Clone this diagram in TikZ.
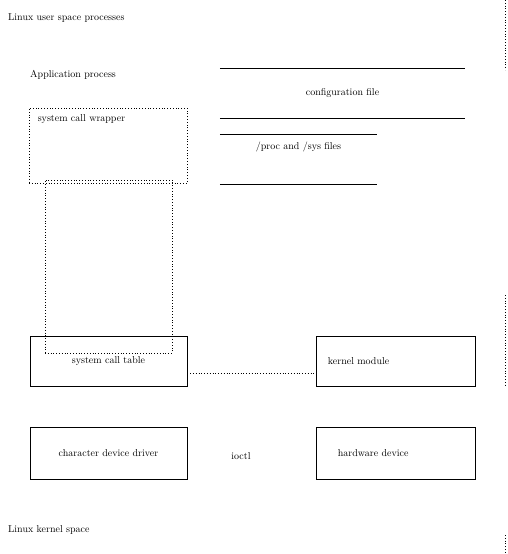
\documentclass[tikz,border=0pt]{standalone}
\usepackage{tikz}
\usetikzlibrary{positioning}
\begin{document}
\begin{tikzpicture}[x=1pt,y={(0pt,-1pt)}]
	\tikzstyle{every node}+=[font=\normalsize]
	\tikzstyle{block}=[draw=black, line width=0.6pt, minimum width=157pt, minimum height=50pt, inner sep=0pt]
	\tikzstyle{store}=[minimum height=50pt, inner sep=0pt]
	\tikzstyle{group}=[draw=black, dotted, line width=0.8pt, inner sep=0pt]
	\useasboundingbox (0,0) rectangle (508,554);
	% titles
	\node [anchor=west, inner sep=0pt] (usr) at (8,18) {Linux user space processes};
	\node [anchor=west, inner sep=0pt] (krn) at (8,530) {Linux kernel space};
	\node [anchor=west, inner sep=0pt] (app) at (30,75) {Application process};
	% process groups
	\node [group, minimum width=158pt, minimum height=75pt] (proc) at (108,145.5) {};
	\node [anchor=north west, inner sep=0pt] (wrap) at ([xshift=9pt,yshift=-7pt]proc.north west) {system call wrapper};
	\node [group, minimum width=127pt, minimum height=173pt] (lib) at (108.5,266.5) {};
	% data stores
	\node [store, minimum width=245pt] (cfg) at (342.5,93) {configuration file};
	\draw [line width=0.6pt] (cfg.north west) -- (cfg.north east);
	\draw [line width=0.6pt] (cfg.south west) -- (cfg.south east);
	\node [store, minimum width=157pt] (sys) at (298.5,159) {};
	\node [anchor=north, inner sep=0pt] at ([yshift=-8pt]sys.north) {/proc and /sys files};
	\draw [line width=0.6pt] (sys.north west) -- (sys.north east);
	\draw [line width=0.6pt] (sys.south west) -- (sys.south east);
	% kernel blocks
	\node [block] (tbl) at (108.5,361) {system call table};
	\node [block, minimum width=159pt] (mod) at (395.5,361) {};
	\node [anchor=west, inner sep=0pt] at ([xshift=12pt]mod.west) {kernel module};
	\node [block, minimum height=52pt] (drv) at (108.5,453) {character device driver};
	\node [block, minimum width=159pt, minimum height=52pt] (hw) at (395.5,453) {};
	\node [anchor=west, inner sep=0pt] at ([xshift=22pt]hw.west) {hardware device};
	\draw [dotted, line width=0.8pt] ([yshift=-12pt]tbl.east) -- ([yshift=-12pt]mod.west);
	\node (ioctl) at (241,456) {ioctl};
	% region borders
	\coordinate (r1) at (505,0);
	\coordinate (r2) at (505,70);
	\coordinate (r3) at (505,295);
	\coordinate (r4) at (505,385);
	\coordinate (r5) at (505,535);
	\coordinate (r6) at (505,554);
	\draw [dotted, line width=0.8pt] (r1) -- (r2);
	\draw [dotted, line width=0.8pt] (r3) -- (r4);
	\draw [dotted, line width=0.8pt] (r5) -- (r6);
\end{tikzpicture}
\end{document}
